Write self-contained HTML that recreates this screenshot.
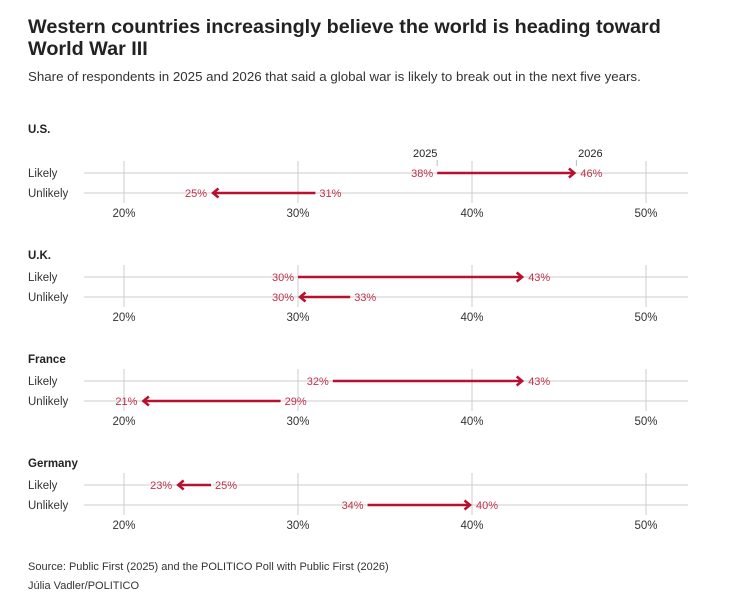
<!DOCTYPE html>
<html><head><meta charset="utf-8"><style>
body{margin:0;background:#fff;width:740px;height:600px;overflow:hidden;font-family:"Liberation Sans",sans-serif;}
</style></head><body>
<svg width="740" height="600" xmlns="http://www.w3.org/2000/svg" font-family="Liberation Sans, sans-serif">
<defs><marker id="ah" markerWidth="10" markerHeight="12" refX="7" refY="6" orient="auto" markerUnits="userSpaceOnUse"><path d="M1.5,1.5 L7,6 L1.5,10.5" fill="none" stroke="#b8102e" stroke-width="2.5"/></marker></defs>
<text x="28" y="33" font-size="19.8" font-weight="bold" fill="#222">Western countries increasingly believe the world is heading toward</text>
<text x="28" y="55" font-size="19.8" font-weight="bold" fill="#222">World War III</text>
<text x="28" y="81" font-size="13.3" fill="#333">Share of respondents in 2025 and 2026 that said a global war is likely to break out in the next five years.</text>
<g id="c"></g>
<text x="28" y="570" font-size="11" fill="#333">Source: Public First (2025) and the POLITICO Poll with Public First (2026)</text>
<text x="28" y="589" font-size="11" fill="#333">Júlia Vadler/POLITICO</text>
</svg>
<script>
var ns="http://www.w3.org/2000/svg",g=document.getElementById('c');
function el(t,a,txt){var e=document.createElementNS(ns,t);for(var k in a)e.setAttribute(k,a[k]);if(txt)e.textContent=txt;g.appendChild(e);return e;}
function X(v){return 124+(v-20)*17.4;}
var P=[["U.S.",[38,46],[31,25]],["U.K.",[30,43],[33,30]],["France",[32,43],[29,21]],["Germany",[25,23],[34,40]]];
P.forEach(function(p,i){
var y1=173+i*104,y2=y1+20;
el('text',{x:28,y:(i==0?y1-40:y1-18),'font-size':11.5,'font-weight':'bold',fill:'#222'},p[0]);
[20,30,40,50].forEach(function(v){el('line',{x1:X(v),x2:X(v),y1:y1-12,y2:y2+10,stroke:'#ccc','stroke-width':1});
el('text',{x:X(v),y:y2+24,'font-size':11.5,fill:'#333','text-anchor':'middle'},v+'%');});
[y1,y2].forEach(function(y){el('line',{x1:84,x2:688,y1:y,y2:y,stroke:'#ccc','stroke-width':1});});
el('text',{x:28,y:y1+4,'font-size':11.5,fill:'#333'},'Likely');
el('text',{x:28,y:y2+4,'font-size':11.5,fill:'#333'},'Unlikely');
[[p[1],y1],[p[2],y2]].forEach(function(r){
var a=r[0][0],b=r[0][1],y=r[1],d=b>a?1:-1,xa=X(a),xb=X(b);
el('line',{x1:xa,x2:xb-d*2,y1:y,y2:y,stroke:'#b8102e','stroke-width':2.5,'marker-end':'url(#ah)'});
el('text',{x:xa-d*4,y:y+4,'font-size':11,fill:'#c0304a','text-anchor':d>0?'end':'start'},a+'%');
el('text',{x:xb+d*4,y:y+4,'font-size':11,fill:'#c0304a','text-anchor':d>0?'start':'end'},b+'%');
});
if(i==0){el('text',{x:X(38)-12,y:157,'font-size':11,fill:'#222','text-anchor':'middle'},'2025');
el('text',{x:X(46)+14,y:157,'font-size':11,fill:'#222','text-anchor':'middle'},'2026');
el('line',{x1:X(38),x2:X(38),y1:160,y2:166,stroke:'#bbb'});el('line',{x1:X(46),x2:X(46),y1:160,y2:166,stroke:'#bbb'});}
});
</script>
</body></html>
